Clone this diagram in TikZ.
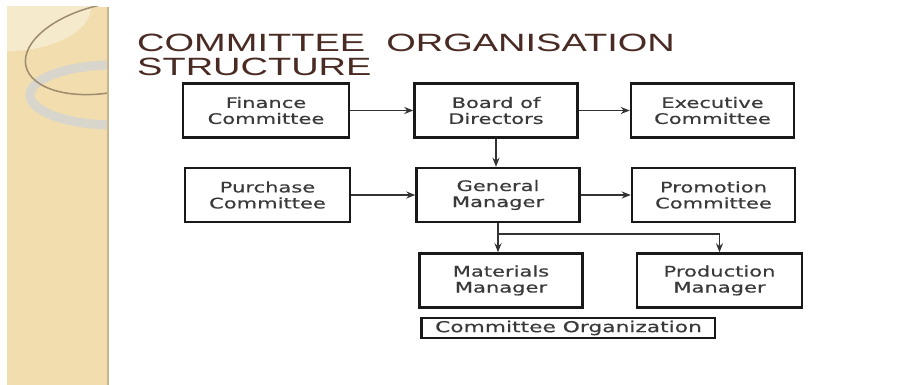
\documentclass[tikz,border=0pt]{standalone}
\usepackage{fontspec}
\usetikzlibrary{arrows.meta, calc}
\newfontfamily\boxfont[FakeStretch=1.45, FakeBold=0.4]{DejaVu Sans}
\newfontfamily\titlefont[FakeStretch=1.52]{Liberation Sans}
\definecolor{SideBeige}{HTML}{F2DDAE}
\definecolor{SideLight}{HTML}{F6EACD}
\definecolor{SideEdge}{HTML}{C9B58C}
\definecolor{RingBrown}{HTML}{9C8B6C}
\definecolor{RingGray}{HTML}{D8D5CD}
\definecolor{TitleBrown}{HTML}{4A2B24}
\definecolor{InkGray}{HTML}{3A3A3A}

\begin{document}
\begin{tikzpicture}[x=1pt, y=-1pt, >={Stealth[length=9pt, width=7pt]},
    orgbox/.style={draw=black!90, line width=2.4pt, minimum width=163pt, minimum height=54pt,
      inner sep=0pt, align=center, text=InkGray, font=\boxfont\fontsize{14.5}{16}\selectfont},
    link/.style={->, line width=1.6pt, color=black!80}]
    % Canvas
    \fill[white] (0,0) rectangle (906,385);
    \useasboundingbox (0,0) rectangle (906,385);

    % Side strip with rings
    \fill[SideBeige] (7,7) rectangle (108,385);
    \begin{scope}
        \clip (7,7) rectangle (108,385);
        \fill[SideLight] (7,7) ellipse [x radius=84pt, y radius=44pt];
        \draw[RingGray, line width=9pt] (114,95) ellipse [x radius=84pt, y radius=30pt];
        \draw[RingBrown, line width=1.5pt, rotate around={12:(110,48)}] (110,48) ellipse [x radius=86pt, y radius=44pt];
    \end{scope}
    \draw[SideEdge, line width=1.5pt] (108,7) -- (108,385);

    % Title
    \node[anchor=north west, inner sep=0pt, align=left, text=TitleBrown,
      font=\titlefont\fontsize{25}{24}\selectfont] (title) at (137,34) {COMMITTEE\ \ ORGANISATION\\STRUCTURE};

    % Boxes
    \node[orgbox, minimum width=166pt] (fin) at (266,110.5) {Finance\\Committee};
    \node[orgbox] (bod) at (496,110.5) {Board of\\Directors};
    \node[orgbox] (exe) at (712.5,110.5) {Executive\\Committee};
    \node[orgbox, minimum width=165pt] (pur) at (267.5,195) {Purchase\\Committee};
    \node[orgbox] (gm) at (498,195) {General\\Manager};
    \node[orgbox] (pro) at (713.5,195) {Promotion\\Committee};
    \node[orgbox] (mat) at (501,280.5) {Materials\\Manager};
    \node[orgbox, minimum width=165pt] (prd) at (719.5,280.5) {Production\\Manager};

    % Caption
    \node[draw=black!90, line width=1.5pt, minimum width=293pt, minimum height=20pt, inner sep=0pt,
      text=InkGray, font=\boxfont\fontsize{15}{16}\selectfont] (cap) at (568.5,328) {Committee Organization};
    \draw[black!90, line width=3pt] (cap.north west) -- (cap.south west);

    % Connectors
    \draw[link] (fin) -- (bod);
    \draw[link] (bod) -- (exe);
    \draw[link] (bod.south) -- (bod.south |- gm.north);
    \draw[link] (pur) -- (gm);
    \draw[link] (gm) -- (pro);
    \coordinate (split) at ($(gm.south)+(0,11)$);
    \draw[link] (gm.south) -- (gm.south |- mat.north);
    \draw[link] (split) -| (prd.north);
\end{tikzpicture}
\end{document}
